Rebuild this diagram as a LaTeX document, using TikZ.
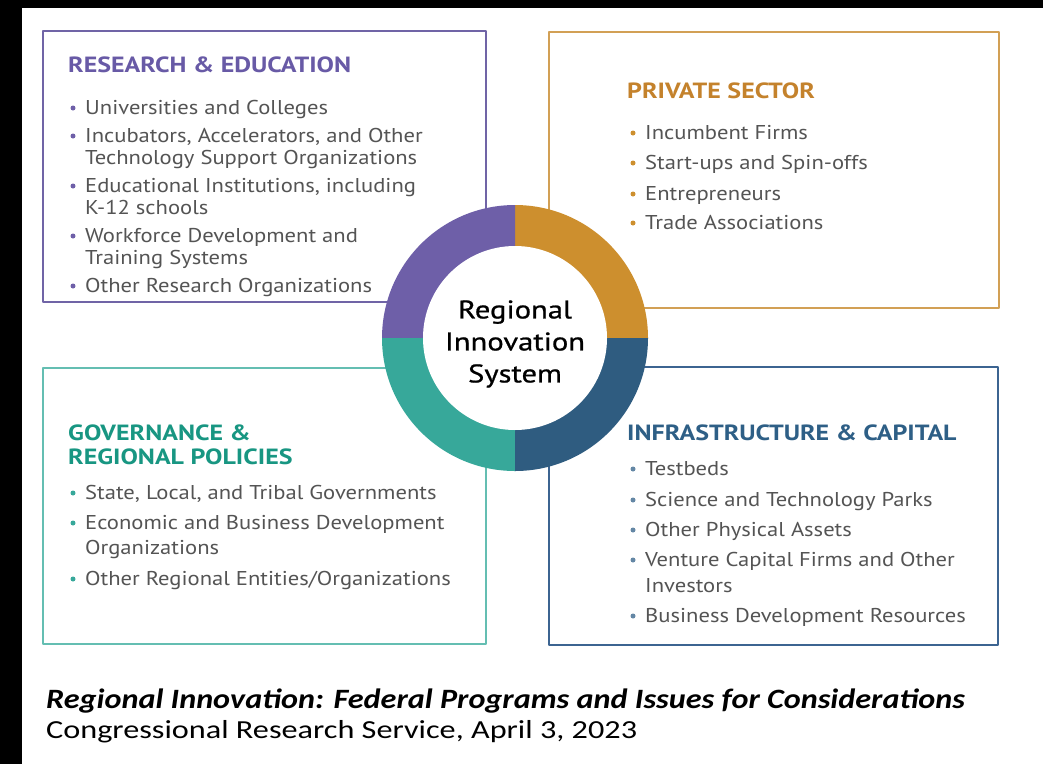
\documentclass[tikz,border=0pt]{standalone}
\usepackage{fontspec}
\setmainfont{PT Sans}[FakeStretch=1.13]
\newfontfamily\ttlfont{PT Sans}[FakeStretch=1.18]
\newfontfamily\capfont{Carlito}[FakeStretch=1.24]
\newfontfamily\capfontB{Carlito}[FakeStretch=1.15]
\newfontfamily\ctrfont{PT Sans}[FakeBold=0.8,FakeStretch=1.2]
\usetikzlibrary{positioning}
\definecolor{rePurple}{RGB}{110,95,168}
\definecolor{psOrange}{RGB}{205,143,46}
\definecolor{grTeal}{RGB}{55,168,154}
\definecolor{icBlue}{RGB}{47,92,128}
\definecolor{reLine}{RGB}{112,100,166}
\definecolor{psLine}{RGB}{210,160,85}
\definecolor{grLine}{RGB}{100,190,178}
\definecolor{icLine}{RGB}{60,100,145}
\definecolor{reTitle}{RGB}{104,90,166}
\definecolor{psTitle}{RGB}{196,130,44}
\definecolor{grTitle}{RGB}{24,150,130}
\definecolor{icTitle}{RGB}{46,95,134}
\definecolor{icDot}{RGB}{100,135,165}
\definecolor{itemGray}{RGB}{84,84,84}
\begin{document}
\begin{tikzpicture}[x=1pt,y=1pt,line join=round]
  \tikzset{box/.style={draw,line width=1.5pt,inner sep=0pt},
    ttl/.style={font=\ttlfont\bfseries\fontsize{22}{24}\selectfont,inner sep=0pt,anchor=base west},
    item/.style={font=\fontsize{20}{22}\selectfont,text=itemGray,inner sep=0pt,anchor=base west}}
  \useasboundingbox (0,0) rectangle (1043,-764);
  \fill[white] (0,0) rectangle (1043,-764);
  \fill[black] (0,0) rectangle (1043,-8);
  \fill[black] (0,0) rectangle (22,-764);
  % the four boxes
  \node[box,draw=reLine,minimum width=443pt,minimum height=271pt] (research) at (264.5,-166.5) {};
  \node[box,draw=psLine,minimum width=450pt,minimum height=276pt] (private) at (774,-170) {};
  \node[box,draw=grLine,minimum width=443pt,minimum height=276pt] (govern) at (264.5,-506) {};
  \node[box,draw=icLine,minimum width=449pt,minimum height=278pt] (infra) at (773.5,-506) {};
  % titles
  \node[ttl,text=reTitle] (researchT) at (68,-72) {RESEARCH \& EDUCATION};
  \node[ttl,text=psTitle] (privateT) at (627,-98) {PRIVATE SECTOR};
  \node[ttl,text=grTitle] (governT) at (68,-440) {GOVERNANCE \&};
  \node[ttl,text=grTitle] (governT2) at (68,-464) {REGIONAL POLICIES};
  \node[ttl,text=icTitle] (infraT) at (627,-440) {INFRASTRUCTURE \& CAPITAL};
  % bullet lists
  \foreach \yb/\b/\txt in {114/1/{Universities and Colleges},142/1/{Incubators, Accelerators, and Other},
      164/0/{Technology Support Organizations},192/1/{Educational Institutions, including},
      214/0/{K-12 schools},242/1/{Workforce Development and},264/0/{Training Systems},
      292/1/{Other Research Organizations}}{
    \node[item] (re-\yb) at (85,-\yb) {\txt};
    \ifnum\b=1 \fill[rePurple] ([xshift=-12pt,yshift=6pt]re-\yb.base west) circle (2.5pt);\fi
  }
  \foreach \yb/\txt in {139/{Incumbent Firms},169/{Start-ups and Spin-offs},200/{Entrepreneurs},229/{Trade Associations}}{
    \node[item] (ps-\yb) at (645,-\yb) {\txt};
    \fill[psOrange] ([xshift=-12pt,yshift=6pt]ps-\yb.base west) circle (2.5pt);
  }
  \foreach \yb/\b/\txt in {499/1/{State, Local, and Tribal Governments},529/1/{Economic and Business Development},
      554/0/{Organizations},585/1/{Other Regional Entities/Organizations}}{
    \node[item] (gr-\yb) at (85,-\yb) {\txt};
    \ifnum\b=1 \fill[grTeal] ([xshift=-12pt,yshift=6pt]gr-\yb.base west) circle (2.5pt);\fi
  }
  \foreach \yb/\b/\txt in {475/1/{Testbeds},506/1/{Science and Technology Parks},536/1/{Other Physical Assets},
      566/1/{Venture Capital Firms and Other},592/0/{Investors},622/1/{Business Development Resources}}{
    \node[item] (ic-\yb) at (645,-\yb) {\txt};
    \ifnum\b=1 \fill[icDot] ([xshift=-12pt,yshift=6pt]ic-\yb.base west) circle (2.5pt);\fi
  }
  % ring
  \coordinate (hub) at (515,-338);
  \foreach \a/\c in {0/psOrange,90/rePurple,180/grTeal,270/icBlue}
    \fill[\c] (hub) -- ++(\a:133) arc[start angle=\a,delta angle=90,radius=133] -- cycle;
  \node[circle,fill=white,minimum size=184pt,inner sep=0pt] (ris) at (hub) {};
  \node[align=center,font=\ctrfont\fontsize{25.5}{32}\selectfont,inner sep=0pt] (risT)
    at ([yshift=-6pt]ris.center) {Regional\\Innovation\\System};
  % caption
  \node[anchor=base west,inner sep=0pt,font=\capfontB\bfseries\itshape\fontsize{28}{30}\selectfont] (capT)
    at (46,-708) {Regional Innovation: Federal Programs and Issues for Considerations};
  \node[anchor=base west,inner sep=0pt,font=\capfont\fontsize{26}{30}\selectfont] (capS)
    at (46,-738) {Congressional Research Service, April 3, 2023};
\end{tikzpicture}
\end{document}
